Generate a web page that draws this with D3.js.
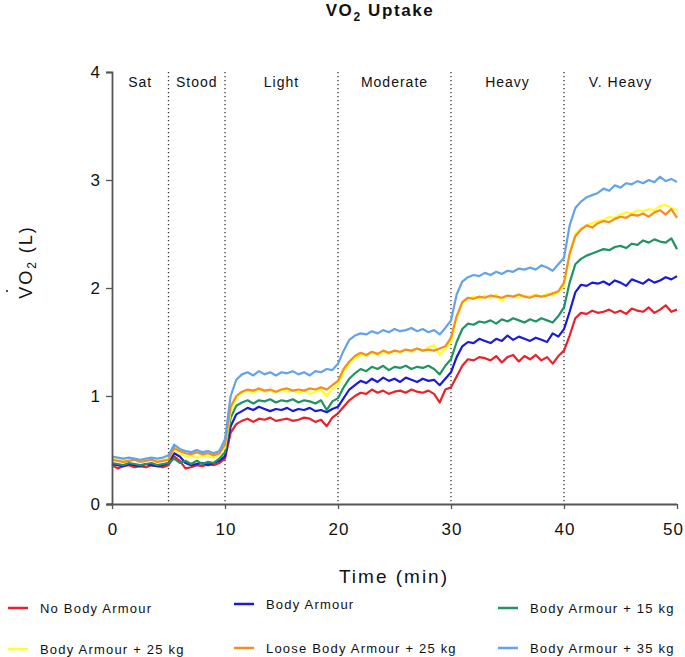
<!DOCTYPE html>
<html><head><meta charset="utf-8">
<script src="https://cdn.jsdelivr.net/npm/d3@7"></script>
<style>body{margin:0;background:#fff;} text{font-family:"Liberation Sans",Arial,sans-serif;}</style>
</head><body><svg id="c" width="685" height="657"></svg>
<script>
const time = d3.range(0, 50.01, 0.5);
const seriesNames = ["No Body Armour","Body Armour","Body Armour + 15 kg","Body Armour + 25 kg","Loose Body Armour + 25 kg","Body Armour + 35 kg"];
const seriesColors = ["#e8212b","#1a1ad8","#1e9460","#ffff26","#f58d1f","#62a3ec"];
const noArmour = [0.36,0.33,0.35,0.36,0.34,0.35,0.34,0.36,0.35,0.34,
 0.36,0.44,0.40,0.33,0.34,0.36,0.35,0.37,0.36,0.38,
 0.42,0.66,0.74,0.77,0.79,0.76,0.79,0.78,0.80,0.77,0.78,0.79,0.77,0.78,0.80,0.79,0.76,0.78,0.72,0.80,
 0.84,0.90,0.96,1.00,1.03,1.02,1.06,1.03,1.05,1.02,1.04,1.05,1.03,1.06,1.04,1.03,1.05,1.02,0.94,1.06,
 1.08,1.18,1.28,1.34,1.33,1.36,1.35,1.33,1.37,1.31,1.36,1.38,1.32,1.37,1.34,1.38,1.33,1.36,1.30,1.37,
 1.42,1.56,1.72,1.77,1.76,1.79,1.77,1.78,1.80,1.77,1.79,1.76,1.81,1.79,1.78,1.82,1.77,1.80,1.84,1.78,1.80];
const armour = [0.37,0.36,0.35,0.37,0.36,0.35,0.37,0.36,0.35,0.36,
 0.38,0.47,0.44,0.38,0.36,0.37,0.38,0.36,0.38,0.40,
 0.44,0.72,0.83,0.86,0.89,0.87,0.90,0.88,0.86,0.88,0.87,0.89,0.86,0.88,0.87,0.89,0.86,0.87,0.85,0.88,
 0.90,0.98,1.06,1.10,1.14,1.12,1.16,1.13,1.17,1.14,1.16,1.13,1.17,1.15,1.13,1.16,1.14,1.15,1.10,1.16,
 1.22,1.36,1.46,1.50,1.49,1.53,1.51,1.49,1.53,1.51,1.56,1.52,1.55,1.53,1.51,1.54,1.52,1.50,1.58,1.55,
 1.62,1.78,1.96,2.03,2.02,2.05,2.04,2.06,2.03,2.07,2.05,2.02,2.08,2.06,2.04,2.08,2.05,2.07,2.10,2.08,2.11];
const armour15 = [0.38,0.37,0.36,0.38,0.37,0.36,0.37,0.38,0.36,0.37,
 0.38,0.42,0.38,0.40,0.37,0.40,0.37,0.39,0.38,0.42,
 0.48,0.80,0.91,0.94,0.96,0.93,0.96,0.95,0.97,0.94,0.96,0.95,0.97,0.94,0.96,0.95,0.93,0.96,0.87,0.95,
 0.98,1.08,1.16,1.21,1.25,1.23,1.27,1.25,1.28,1.24,1.27,1.26,1.28,1.25,1.27,1.26,1.28,1.25,1.20,1.28,
 1.34,1.50,1.62,1.67,1.66,1.69,1.68,1.70,1.67,1.71,1.69,1.72,1.70,1.68,1.71,1.69,1.72,1.70,1.68,1.74,
 1.82,2.05,2.22,2.27,2.30,2.32,2.34,2.36,2.35,2.38,2.39,2.37,2.41,2.40,2.44,2.42,2.45,2.43,2.42,2.46,2.36];
const armour25 = [0.42,0.41,0.40,0.42,0.41,0.40,0.41,0.42,0.40,0.41,
 0.42,0.50,0.47,0.44,0.45,0.43,0.45,0.44,0.43,0.46,
 0.52,0.86,0.98,1.03,1.05,1.03,1.06,1.04,1.05,1.03,1.06,1.04,1.05,1.03,1.05,1.02,1.04,1.06,1.00,1.07,
 1.10,1.22,1.30,1.35,1.38,1.37,1.40,1.38,1.41,1.39,1.42,1.40,1.43,1.41,1.44,1.42,1.45,1.47,1.38,1.44,
 1.50,1.72,1.86,1.90,1.92,1.90,1.93,1.91,1.94,1.88,1.93,1.92,1.91,1.93,1.92,1.94,1.92,1.95,1.93,1.96,
 2.02,2.30,2.50,2.55,2.58,2.60,2.62,2.63,2.66,2.65,2.68,2.70,2.69,2.72,2.71,2.73,2.72,2.76,2.77,2.74,2.72];
const looseArmour25 = [0.41,0.40,0.39,0.40,0.41,0.39,0.40,0.41,0.39,0.40,
 0.41,0.52,0.49,0.47,0.46,0.48,0.46,0.47,0.45,0.47,
 0.55,0.90,1.00,1.04,1.06,1.05,1.07,1.05,1.06,1.04,1.06,1.07,1.05,1.06,1.05,1.07,1.06,1.08,1.06,1.10,
 1.14,1.25,1.32,1.37,1.40,1.38,1.41,1.39,1.42,1.40,1.42,1.41,1.43,1.42,1.44,1.42,1.43,1.42,1.44,1.46,
 1.54,1.74,1.87,1.91,1.90,1.92,1.91,1.93,1.92,1.91,1.93,1.92,1.94,1.92,1.91,1.93,1.92,1.93,1.95,1.97,
 2.05,2.32,2.48,2.54,2.58,2.56,2.60,2.62,2.61,2.64,2.66,2.65,2.68,2.67,2.69,2.66,2.70,2.72,2.68,2.73,2.65];
const armour35 = [0.44,0.43,0.42,0.43,0.42,0.41,0.42,0.43,0.42,0.43,
 0.45,0.55,0.51,0.49,0.48,0.50,0.48,0.49,0.47,0.49,
 0.60,1.00,1.15,1.20,1.22,1.19,1.23,1.20,1.22,1.19,1.22,1.21,1.23,1.20,1.22,1.19,1.23,1.22,1.25,1.24,
 1.30,1.42,1.52,1.56,1.58,1.57,1.60,1.58,1.61,1.59,1.62,1.60,1.61,1.63,1.60,1.62,1.59,1.61,1.57,1.63,
 1.70,1.94,2.06,2.10,2.12,2.11,2.14,2.12,2.15,2.13,2.16,2.15,2.18,2.17,2.19,2.17,2.21,2.19,2.16,2.22,
 2.28,2.58,2.74,2.80,2.84,2.86,2.88,2.92,2.90,2.95,2.93,2.97,2.96,2.99,2.97,3.00,2.98,3.03,2.99,3.01,2.98];
const seriesValues = [noArmour, armour, armour15, armour25, looseArmour25, armour35];
const xTicks = [0,10,20,30,40,50];
const yTicks = [0,1,2,3,4];
const stageBounds = [5,10,20,30,40];
const stageNames = ["Sat","Stood","Light","Moderate","Heavy","V. Heavy"];
const stageCenters = [2.5,7.5,15,25,35,45];

const svg = d3.select("#c");
const x = d3.scaleLinear().domain([0,50]).range([112,677]);
const y = d3.scaleLinear().domain([0,4]).range([504,72]);
const axisColor = "#555";

// stage dividers
svg.selectAll("line.stage").data(stageBounds).join("line")
  .attr("x1", d=>x(d)).attr("x2", d=>x(d)).attr("y1", y(4)).attr("y2", y(0))
  .attr("stroke","#333").attr("stroke-width",1.3).attr("stroke-dasharray","1.3,2.7");

svg.selectAll("text.stage").data(stageNames).join("text")
  .attr("x",(d,i)=>x(stageCenters[i])).attr("y",87).attr("text-anchor","middle")
  .attr("font-size",14).attr("letter-spacing",1).attr("fill","#111").text(d=>d);

// lines
const line = d3.line().x((d,i)=>x(time[i])).y(d=>y(d));
seriesValues.forEach((vals,k)=>{
  svg.append("path").datum(vals).attr("d",line).attr("fill","none")
    .attr("stroke",seriesColors[k]).attr("stroke-width",2.2).attr("stroke-linejoin","round");
});

// axes
const gx = svg.append("g").attr("transform",`translate(0,${y(0)})`)
  .call(d3.axisBottom(x).tickValues(xTicks).tickFormat(d3.format("d")).tickSize(5).tickPadding(14));
const gy = svg.append("g").attr("transform",`translate(${x(0)},0)`)
  .call(d3.axisLeft(y).tickValues(yTicks).tickFormat(d3.format("d")).tickSize(6).tickPadding(6));
[gx,gy].forEach(g=>{
  g.select(".domain").attr("stroke",axisColor).attr("stroke-width",1.8);
  g.selectAll(".tick line").attr("stroke",axisColor).attr("stroke-width",1.3);
  g.selectAll(".tick text").attr("font-size",17).attr("fill","#111")
    .attr("font-family","'Liberation Sans',Arial,sans-serif");
});
gx.selectAll(".tick text").attr("letter-spacing",1).attr("dx",d=>d===50?-4:0.5);
gx.select(".domain").attr("d","M107,0.5H677");

// axis titles
svg.append("text").attr("x",394).attr("y",583).attr("text-anchor","middle")
  .attr("font-size",19).attr("letter-spacing",2).attr("fill","#111").text("Time (min)");
const yl = svg.append("text").attr("transform","translate(32,262) rotate(-90)")
  .attr("text-anchor","middle").attr("font-size",18).attr("letter-spacing",2).attr("fill","#111");
yl.append("tspan").text("VO");
yl.append("tspan").attr("font-size",12).attr("dy",4).text("2");
yl.append("tspan").attr("dy",-4).text(" (L)");
svg.append("circle").attr("cx",7).attr("cy",291).attr("r",1.1).attr("fill","#222");

// title
const t = svg.append("text").attr("x",380).attr("y",16).attr("text-anchor","middle")
  .attr("font-size",17).attr("font-weight","bold").attr("letter-spacing",1.6).attr("fill","#111");
t.append("tspan").text("VO");
t.append("tspan").attr("font-size",12).attr("dy",5).text("2");
t.append("tspan").attr("dy",-5).text(" Uptake");

// legend
const legPos = [[8,608],[234,604],[498,608],[8,649],[234,648],[498,648]];
seriesNames.forEach((n,k)=>{
  const [lx,ly] = legPos[k];
  svg.append("line").attr("x1",lx).attr("x2",lx+20).attr("y1",ly).attr("y2",ly)
    .attr("stroke",seriesColors[k]).attr("stroke-width",2.5);
  svg.append("text").attr("x",lx+32).attr("y",ly+5).attr("font-size",13)
    .attr("letter-spacing",1.2).attr("fill","#111").text(n);
});
</script></body></html>
